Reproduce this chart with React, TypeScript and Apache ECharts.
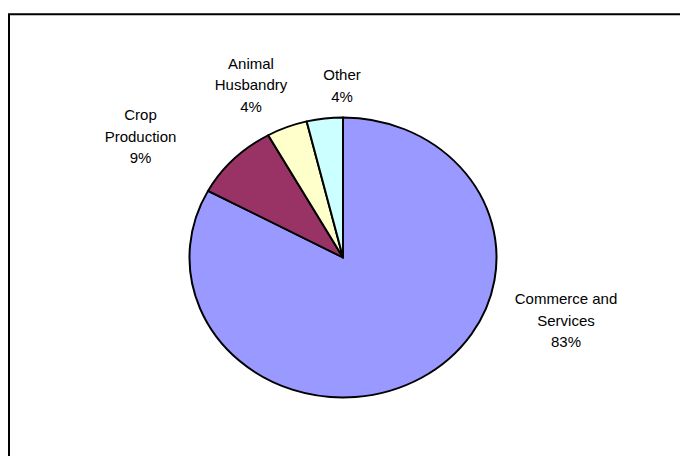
import React, { useEffect, useRef } from "react";
import * as echarts from "echarts";

// ---- data ----
const categories = ["Commerce and Services", "Crop Production", "Animal Husbandry", "Other"];
const shares = [82.9, 9.0, 4.3, 3.8];
const labelLines = [["Commerce and", "Services"], ["Crop", "Production"], ["Animal", "Husbandry"], ["Other"]];

// ---- styles ----
const colors = ["#9999FF", "#993366", "#FFFFCC", "#CCFFFF"];
const labelPos = [
  [566, 320],
  [140.5, 136],
  [251, 84.5],
  [342, 85.5],
];
const CX = 343;
const CY = 257.5;
const RX = 153.5;
const RY = 140;

export default function App() {
  const ref = useRef<HTMLDivElement>(null);
  useEffect(() => {
    if (!ref.current) return;
    const chart = echarts.init(ref.current, undefined, { renderer: "svg" });
    const total = shares.reduce((a, b) => a + b, 0);
    const option: any = {
      animation: false,
      backgroundColor: "#ffffff",
      graphic: [
        {
          type: "rect",
          shape: { x: 9, y: 14.3, width: 720, height: 500 },
          style: { fill: "none", stroke: "#000000", lineWidth: 2 },
          silent: true,
        },
      ],
      series: [
        {
          type: "custom",
          coordinateSystem: "none",
          data: categories.map((name, i) => ({ name, value: [shares[i]] })),
          renderItem: (params: any, api: any) => {
            const i = params.dataIndex;
            const v = api.value(0);
            let before = 0;
            for (let k = 0; k < i; k++) before += shares[k];
            const start = -Math.PI / 2 + (before / total) * Math.PI * 2;
            const end = start + (v / total) * Math.PI * 2;
            const pct = Math.round((v / total) * 100);
            const text = [...labelLines[i], pct + "%"].join("\n");
            return {
              type: "group",
              children: [
                {
                  type: "group",
                  x: CX,
                  y: CY,
                  scaleY: RY / RX,
                  children: [
                    {
                      type: "sector",
                      shape: { cx: 0, cy: 0, r0: 0, r: RX, startAngle: start, endAngle: end, clockwise: true },
                      style: { fill: colors[i], stroke: "#000000", lineWidth: 2, strokeNoScale: true, lineJoin: "round" },
                    },
                  ],
                },
                {
                  type: "text",
                  x: labelPos[i][0],
                  y: labelPos[i][1],
                  style: {
                    text,
                    fill: "#000000",
                    fontSize: 15,
                    fontFamily: '"Liberation Sans", Arial, sans-serif',
                    align: "center",
                    verticalAlign: "middle",
                    lineHeight: 21.5,
                  },
                },
              ],
            };
          },
        },
      ],
    };
    chart.setOption(option);
    return () => chart.dispose();
  }, []);
  return (
    <div
      ref={ref}
      style={{ position: "fixed", left: 0, top: 0, width: 680, height: 456, background: "#fff" }}
    />
  );
}
